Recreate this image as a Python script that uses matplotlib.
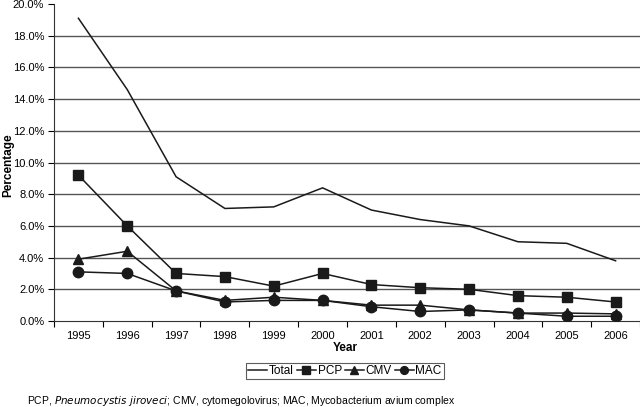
import matplotlib
matplotlib.use("Agg")
import matplotlib.pyplot as plt
from matplotlib.ticker import FixedLocator, PercentFormatter

plt.rcParams['font.family'] = ['Liberation Sans', 'DejaVu Sans']

years = ['1995', '1996', '1997', '1998', '1999', '2000', '2001', '2002', '2003', '2004', '2005', '2006']
total = [19.1, 14.6, 9.1, 7.1, 7.2, 8.4, 7.0, 6.4, 6.0, 5.0, 4.9, 3.8]
pcp = [9.2, 6.0, 3.0, 2.8, 2.2, 3.0, 2.3, 2.1, 2.0, 1.6, 1.5, 1.2]
cmv = [3.9, 4.4, 1.9, 1.3, 1.5, 1.3, 1.0, 1.0, 0.7, 0.5, 0.5, 0.45]
mac = [3.1, 3.0, 1.9, 1.2, 1.3, 1.3, 0.9, 0.6, 0.7, 0.5, 0.3, 0.3]

fig = plt.figure(figsize=(6.4, 4.07), dpi=100)
ax = fig.add_axes([54/640, 1 - 321/407, 586/640, 317/407])

x = list(range(len(years)))
ax.plot(x, total, color='#1a1a1a', lw=1.1, label='Total', zorder=3)
ax.plot(x, pcp, color='#1a1a1a', lw=1.1, marker='s', ms=7.5, label='PCP', zorder=3)
ax.plot(x, cmv, color='#1a1a1a', lw=1.1, marker='^', ms=7.5, label='CMV', zorder=3)
ax.plot(x, mac, color='#1a1a1a', lw=1.1, marker='o', ms=7.5, label='MAC', zorder=3)

ax.set_xlim(-0.5, len(years) - 0.5)
ax.set_ylim(0, 20)
yt = [0, 2, 4, 6, 8, 10, 12, 14, 16, 18, 20]
ax.set_yticks(yt)
ax.yaxis.set_major_formatter(PercentFormatter(decimals=1))
for v in yt[1:-1]:
    ax.axhline(v, color='#555555', lw=1.0, zorder=0)
ax.set_xticks(x)
ax.set_xticklabels(years)
ax.xaxis.set_minor_locator(FixedLocator([i - 0.5 for i in range(len(years) + 1)]))
ax.tick_params(axis='x', which='major', length=0, pad=7, labelsize=8)
ax.tick_params(axis='x', which='minor', length=4, direction='out', width=0.8)
ax.tick_params(axis='y', length=4, direction='out', width=0.8, labelsize=8, pad=3)

for s in ['top', 'right']:
    ax.spines[s].set_visible(False)
ax.spines['left'].set_color('#333333')
ax.spines['bottom'].set_color('#333333')

fig.text(345/640, 1 - 348/407, 'Year', fontweight='bold', fontsize=8.5, ha='center', va='center')
fig.text(8/640, 1 - 165/407, 'Percentage', fontweight='bold', fontsize=8.5,
         ha='center', va='center', rotation=90)

leg = fig.legend(loc='center', bbox_to_anchor=(345/640, 1 - 371/407), ncol=4,
                 frameon=True, fancybox=False, edgecolor='#333333', fontsize=8.5,
                 handlelength=1.6, handletextpad=0.15, columnspacing=0.25,
                 borderpad=0.2, markerscale=0.75)
leg.get_frame().set_linewidth(0.8)

fig.text(27/640, 1 - 401/407,
         r'PCP, $\it{Pneumocystis\ jiroveci}$; CMV, cytomegolovirus; MAC, Mycobacterium avium complex',
         fontsize=7.5, va='center', ha='left')

fig.savefig('out.png', dpi=100)
